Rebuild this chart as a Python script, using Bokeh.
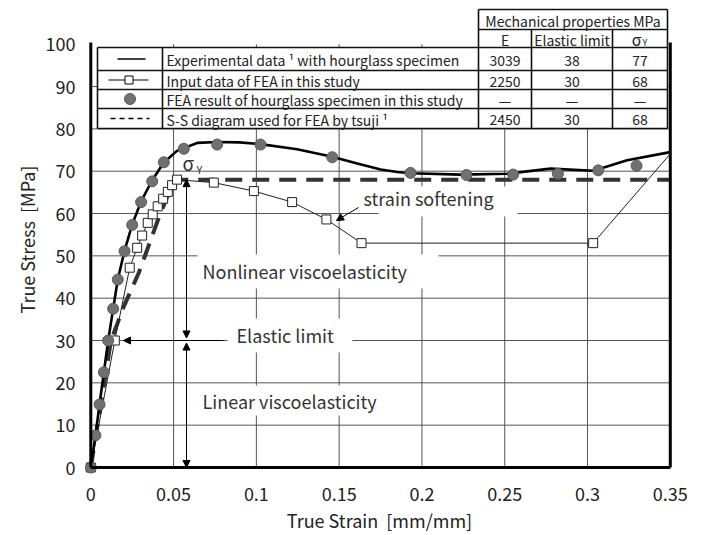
from bokeh.plotting import figure
from bokeh.models import Range1d, FixedTicker, Label, Arrow, NormalHead, Title
from bokeh.embed import file_html
from bokeh.resources import INLINE

# ---------------- data ----------------
exp_strain = [0, 0.0028, 0.0053, 0.0079, 0.0105, 0.0135, 0.0163, 0.0203, 0.025, 0.0303, 0.037, 0.044,
              0.052, 0.0646, 0.0763, 0.0897, 0.1025, 0.1246, 0.1458, 0.1609, 0.1751, 0.185, 0.1931, 0.2233,
              0.2515, 0.2777, 0.3036, 0.3239, 0.35]
exp_stress = [0, 7.5, 15.0, 22.5, 30.0, 37.5, 44.4, 51.1, 57.4, 62.8, 67.8, 72.0,
              74.8, 76.7, 76.9, 76.8, 76.4, 75.2, 73.4, 71.8, 70.4, 69.8, 69.5, 69.2,
              69.4, 70.6, 70.1, 72.6, 74.5]

fea_strain = [0, 0.0028, 0.0053, 0.0079, 0.0105, 0.0135, 0.0163, 0.0204, 0.025, 0.0304, 0.0371, 0.0441,
              0.0562, 0.0763, 0.1025, 0.1458, 0.1931, 0.2269, 0.2551, 0.2821, 0.3065, 0.3296]
fea_stress = [0, 7.6, 14.9, 22.5, 30.0, 37.5, 44.4, 51.1, 57.3, 62.7, 67.6, 72.1,
              75.3, 76.3, 76.3, 73.3, 69.6, 69.1, 69.2, 69.4, 70.2, 71.3]

inp_strain = [0, 0.0145, 0.0235, 0.028, 0.031, 0.0344, 0.0374, 0.0404, 0.0437, 0.0465, 0.0491, 0.0521,
              0.0743, 0.0985, 0.1216, 0.1423, 0.1635, 0.3034, 0.35]
inp_stress = [0, 30.0, 47.2, 51.9, 54.8, 57.8, 59.8, 61.7, 63.5, 65.1, 66.7, 68.0,
              67.3, 65.3, 62.7, 58.6, 53.0, 53.0, 74.1]

tsuji_strain = [0, 0.0122, 0.0199, 0.029, 0.0341, 0.0401, 0.0462, 0.052, 0.35]
tsuji_stress = [0, 30.0, 38.0, 46.0, 51.5, 58.0, 64.0, 68.0, 68.0]

x_ticks = [0, 0.05, 0.1, 0.15, 0.2, 0.25, 0.3, 0.35]
x_tick_labels = ["0", "0.05", "0.1", "0.15", "0.2", "0.25", "0.3", "0.35"]
y_ticks = [0, 10, 20, 30, 40, 50, 60, 70, 80, 90, 100]

legend_names = ["Experimental data \u00b9 with hourglass specimen",
                "Input data of FEA in this study",
                "FEA result of hourglass specimen in this study",
                "S-S diagram used for FEA by tsuji \u00b9"]
prop_E = ["3039", "2250", "\u2014", "2450"]
prop_EL = ["38", "30", "\u2014", "30"]
prop_SY = ["77", "68", "\u2014", "68"]

elastic_limit = 30
yield_stress = 68

# ---------------- layout helpers (page pixel -> data) ----------------
PX0, PX_PER = 90.3, 1655.7
PY0, PY_PER = 467.0, 4.233


def X(px):
    return (px - PX0) / PX_PER


def Y(py):
    return (PY0 - py) / PY_PER


FONT = "Noto Sans CJK JP"
W, H = 700, 533
F_L, F_R, F_T, F_B = 82, 676, 4, 474

p = figure(width=W, height=H,
           x_range=Range1d(X(F_L), X(F_R)), y_range=Range1d(Y(F_B), Y(F_T)),
           min_border_left=F_L, min_border_right=W - F_R, min_border_top=F_T, min_border_bottom=H - F_B,
           output_backend="svg", toolbar_location=None)
p.outline_line_color = None
p.xgrid.visible = False
p.ygrid.visible = False
p.background_fill_color = "white"
p.border_fill_color = "white"

for ax in (p.xaxis[0], p.yaxis[0]):
    ax.axis_line_color = None
    ax.major_tick_line_color = None
    ax.minor_tick_line_color = None
    ax.major_tick_out = 0
    ax.major_tick_in = 0
    ax.major_label_text_font = FONT
    ax.major_label_text_font_size = "18px"
    ax.major_label_text_color = "#222222"

p.xaxis.ticker = FixedTicker(ticks=x_ticks)
p.xaxis.major_label_overrides = dict(zip(x_ticks, x_tick_labels))
p.xaxis.major_label_standoff = 12
p.yaxis.ticker = FixedTicker(ticks=y_ticks)
p.yaxis.major_label_standoff = 7

# axis titles
p.add_layout(Title(text="True Strain\u00a0\u00a0[mm/mm]", align="center", offset=18, standoff=2,
                   text_font=FONT, text_font_size="18px", text_font_style="normal",
                   text_color="#222222"), "below")
p.add_layout(Title(text="True Stress\u00a0\u00a0[MPa]", align="center", offset=-13, standoff=6,
                   text_font=FONT, text_font_size="18px", text_font_style="normal",
                   text_color="#222222"), "left")

x_max = x_ticks[-1]
y_max = y_ticks[-1]

# grid
gx = x_ticks[1:-1]
gy = y_ticks[1:-1]
p.segment(x0=gx, y0=[0] * len(gx), x1=gx, y1=[y_max] * len(gx), line_color="#555555", line_width=1)
p.segment(x0=[0] * len(gy), y0=gy, x1=[x_max] * len(gy), y1=gy, line_color="#555555", line_width=1)

# white boxes behind annotation texts
boxes = [(197, 438, 254, 288), (227, 352, 318, 352), (197, 410, 385, 415), (378, 517, 186, 216)]
p.quad(left=[X(b[0]) for b in boxes], right=[X(b[1]) for b in boxes],
       top=[Y(b[2]) for b in boxes], bottom=[Y(b[3]) for b in boxes],
       fill_color="white", line_color=None)

# series
p.line(tsuji_strain, tsuji_stress, line_width=4, line_color="#333333", line_dash="17 10")
p.line(inp_strain, inp_stress, line_width=1, line_color="#222222")
p.scatter(inp_strain[:-1], inp_stress[:-1], marker="square", size=9,
          fill_color="white", line_color="#222222", line_width=1)
p.line(exp_strain, exp_stress, line_width=2.6, line_color="black")
p.scatter(fea_strain, fea_stress, marker="circle", size=11, fill_color="#707070", line_color="#5a5a5a")

# arrows
head = dict(size=7, fill_color="black", line_color="black")
ax_x = X(186)
p.add_layout(Arrow(start=NormalHead(**head), end=NormalHead(**head), x_start=ax_x, y_start=yield_stress,
                   x_end=ax_x, y_end=elastic_limit + 0.6, line_width=1))
p.add_layout(Arrow(start=NormalHead(**head), end=NormalHead(**head), x_start=ax_x, y_start=elastic_limit - 0.6,
                   x_end=ax_x, y_end=0, line_width=1))
p.add_layout(Arrow(end=NormalHead(**head), x_start=X(223), y_start=elastic_limit,
                   x_end=X(123), y_end=elastic_limit, line_width=1))
p.add_layout(Arrow(end=NormalHead(**head), x_start=X(358), y_start=Y(207),
                   x_end=X(336), y_end=Y(220), line_width=1))


def lab(px, py, text, size="18px", align="left", color="#333333"):
    p.add_layout(Label(x=X(px), y=Y(py), text=text, text_font=FONT, text_font_size=size,
                       text_align=align, text_baseline="middle", text_color=color))


lab(202, 270, "Nonlinear viscoelasticity")
lab(236, 334, "Elastic limit")
lab(202, 400, "Linear viscoelasticity")
lab(363, 197, "strain softening")
lab(182, 162, "\u03c3", size="19px")
lab(196, 168, "Y", size="11px")

# ---------------- legend / property table ----------------
T_L, T_S, T_E, T_EL, T_SY, T_R = 97, 162, 478, 531, 612, 667
rows = [47, 70, 89, 108, 128]
H_TOP, H_MID = 9, 29

p.quad(left=[X(T_L), X(T_E)], right=[X(T_R), X(T_R)], top=[Y(rows[0]), Y(H_TOP)],
       bottom=[Y(rows[-1]), Y(rows[0])], fill_color="white", line_color=None)

hx0 = [X(T_L)] * len(rows) + [X(T_E), X(T_E)]
hx1 = [X(T_R)] * len(rows) + [X(T_R), X(T_R)]
hy = [Y(r) for r in rows] + [Y(H_TOP), Y(H_MID)]
p.segment(x0=hx0, y0=hy, x1=hx1, y1=hy, line_color="#111111", line_width=1.6)
vx = [X(T_L), X(T_S), X(T_E), X(T_EL), X(T_SY), X(T_R)]
vy0 = [Y(rows[-1])] * 6
vy1 = [Y(rows[0]), Y(rows[0]), Y(H_TOP), Y(H_MID), Y(H_MID), Y(H_TOP)]
p.segment(x0=vx, y0=vy0, x1=vx, y1=vy1, line_color="#111111", line_width=1.6)

row_c = [(rows[i] + rows[i + 1]) / 2 for i in range(4)]
sym_c = (T_L + T_S) / 2
p.line([X(117), X(145)], [Y(row_c[0])] * 2, line_color="black", line_width=1.5)
p.line([X(108), X(148)], [Y(row_c[1])] * 2, line_color="black", line_width=1)
p.scatter([X(sym_c - 1)], [Y(row_c[1])], marker="square", size=8, fill_color="white", line_color="black")
p.scatter([X(sym_c)], [Y(row_c[2])], marker="circle", size=11, fill_color="#707070", line_color="#5a5a5a")
p.line([X(110), X(149)], [Y(row_c[3])] * 2, line_color="black", line_width=1.5, line_dash="5 4")

TF = "14px"
TC = "#222222"
for i in range(4):
    lab(166, row_c[i] + 1, legend_names[i], size=TF, color=TC)
    lab((T_E + T_EL) / 2, row_c[i] + 1, prop_E[i], size=TF, align="center", color=TC)
    lab((T_EL + T_SY) / 2, row_c[i] + 1, prop_EL[i], size=TF, align="center", color=TC)
    lab((T_SY + T_R) / 2, row_c[i] + 1, prop_SY[i], size=TF, align="center", color=TC)

lab((T_E + T_R) / 2, (H_TOP + H_MID) / 2 + 1, "Mechanical properties MPa", size=TF, align="center", color=TC)
lab((T_E + T_EL) / 2, (H_MID + rows[0]) / 2 + 1, "E", size=TF, align="center", color=TC)
lab((T_EL + T_SY) / 2, (H_MID + rows[0]) / 2 + 1, "Elastic limit", size=TF, align="center", color=TC)
lab(641, (H_MID + rows[0]) / 2, "\u03c3", size="16px", align="right", color=TC)
lab(642, (H_MID + rows[0]) / 2 + 4, "Y", size="9px", color=TC)

# ---------------- plot frame (thick borders) ----------------
top_b = Y(42)
p.segment(x0=[0, x_max, 0], y0=[0, 0, 0], x1=[0, x_max, x_max], y1=[top_b, top_b, 0],
          line_color="black", line_width=3)

open("out.html", "w").write(file_html(p, INLINE))
